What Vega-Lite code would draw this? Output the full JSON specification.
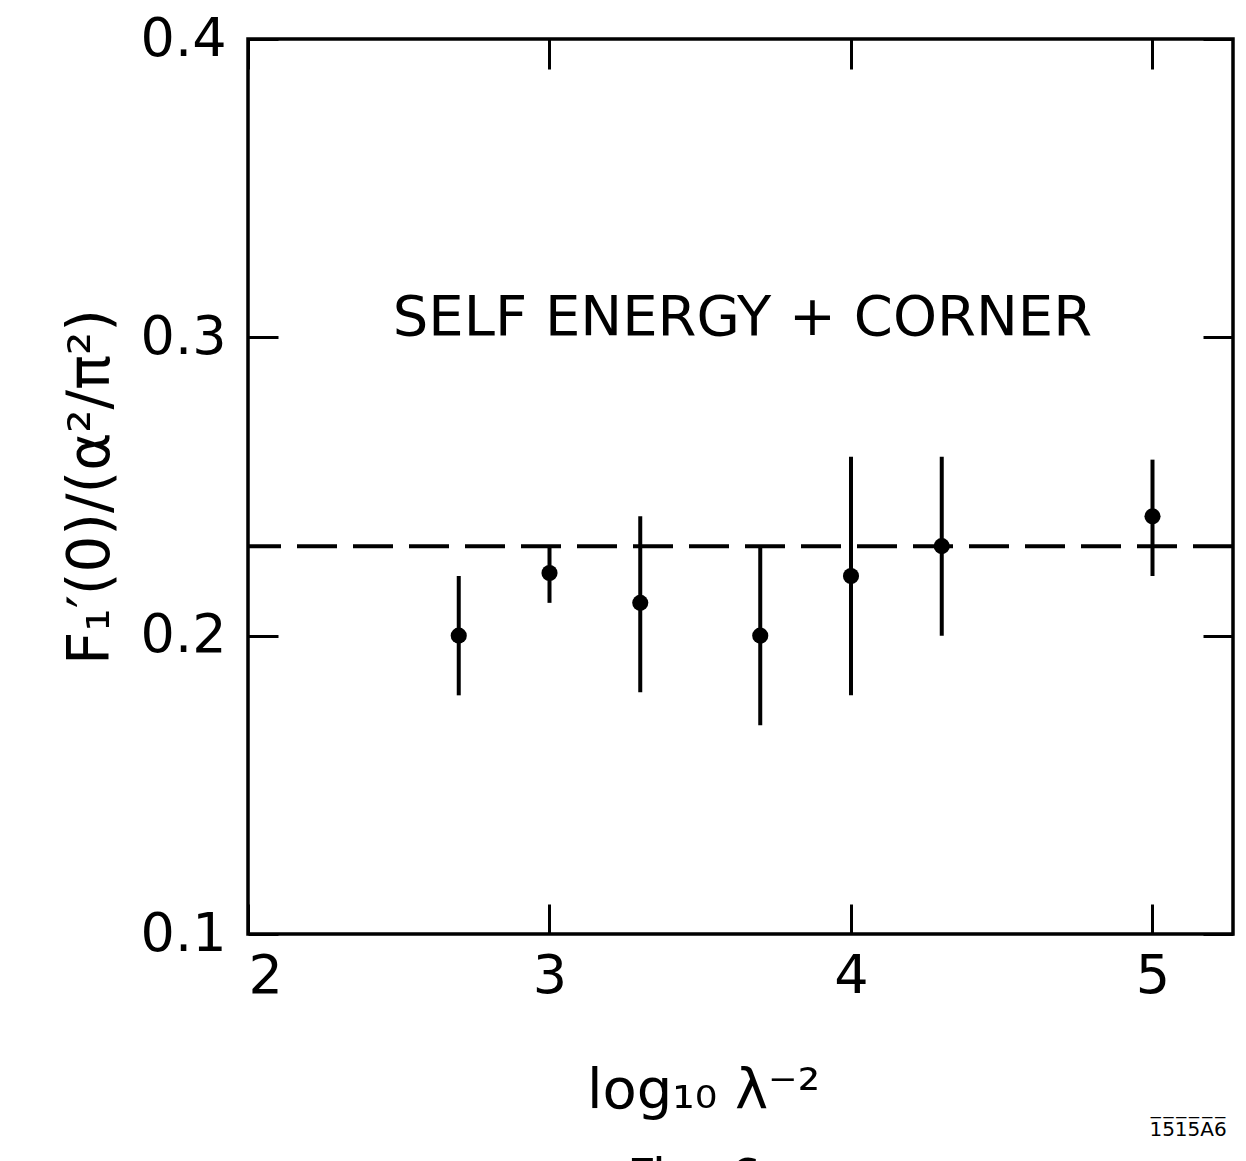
{
  "$schema": "https://vega.github.io/schema/vega-lite/v6.json",
  "width": 985,
  "height": 895,
  "autosize": "none",
  "padding": {"left": 248, "top": 39, "right": 13, "bottom": 227},
  "background": "white",
  "config": {
    "view": {"stroke": "black", "strokeWidth": 3.5},
    "font": "DejaVu Sans",
    "axis": {
      "grid": false,
      "domain": false,
      "tickColor": "black",
      "tickWidth": 3,
      "tickSize": -30,
      "labelColor": "black",
      "labelFont": "DejaVu Sans",
      "labelFontSize": 54,
      "titleColor": "black",
      "titleFont": "DejaVu Sans",
      "titleFontWeight": "normal"
    }
  },
  "datasets": {
    "pts": [
      {"x": 2.699, "v": 0.200, "lo": 0.180, "hi": 0.220},
      {"x": 3.0, "v": 0.221, "lo": 0.211, "hi": 0.230},
      {"x": 3.301, "v": 0.211, "lo": 0.181, "hi": 0.240},
      {"x": 3.699, "v": 0.200, "lo": 0.170, "hi": 0.230},
      {"x": 4.0, "v": 0.220, "lo": 0.180, "hi": 0.260},
      {"x": 4.301, "v": 0.230, "lo": 0.200, "hi": 0.260},
      {"x": 5.0, "v": 0.240, "lo": 0.220, "hi": 0.259}
    ],
    "fit": [{"fit": 0.23}]
  },
  "layer": [
    {
      "data": {"name": "pts"},
      "mark": {"type": "rule", "color": "black", "strokeWidth": 4},
      "encoding": {
        "x": {"field": "x", "type": "quantitative", "scale": {"domain": [2, 5.267]},
              "axis": {"orient": "top", "labels": false, "title": null, "values": [2, 3, 4, 5]}},
        "y": {"field": "lo", "type": "quantitative", "scale": {"domain": [0.1, 0.4]},
              "axis": {"orient": "right", "labels": false, "title": null, "values": [0.1, 0.2, 0.3, 0.4]}},
        "y2": {"field": "hi"}
      }
    },
    {
      "data": {"name": "pts"},
      "mark": {"type": "point", "filled": true, "shape": "circle", "color": "black", "size": 260, "opacity": 1},
      "encoding": {
        "x": {"field": "x", "type": "quantitative", "scale": {"domain": [2, 5.267]},
              "axis": {"orient": "bottom", "values": [2, 3, 4, 5], "format": "d", "labelPadding": 45,
                       "title": "log₁₀ λ⁻²", "titleFontSize": 56, "titlePadding": 60, "titleX": 455}},
        "y": {"field": "v", "type": "quantitative", "scale": {"domain": [0.1, 0.4]},
              "axis": {"orient": "left", "values": [0.1, 0.2, 0.3, 0.4], "format": ".1f", "labelPadding": 52,
                       "title": "F₁′(0)/(α²/π²)", "titleFontSize": 58, "titlePadding": 20}}
      }
    },
    {
      "data": {"name": "fit"},
      "mark": {"type": "rule", "color": "black", "strokeWidth": 4, "strokeDash": [40, 16]},
      "encoding": {
        "y": {"field": "fit", "type": "quantitative", "scale": {"domain": [0.1, 0.4]}, "axis": null}
      }
    },
    {
      "data": {"values": [{}]},
      "mark": {"type": "text", "text": "SELF  ENERGY + CORNER", "fontSize": 56, "align": "center", "baseline": "middle", "color": "black"},
      "encoding": {
        "x": {"datum": 3.64, "type": "quantitative", "scale": {"domain": [2, 5.267]}, "axis": null},
        "y": {"datum": 0.3065, "type": "quantitative", "scale": {"domain": [0.1, 0.4]}, "axis": null}
      }
    },
    {
      "data": {"values": [{}]},
      "mark": {"type": "text", "text": "1̅5̅1̅5̅A̅6̅", "fontSize": 20, "align": "center", "baseline": "middle", "color": "black"},
      "encoding": {
        "x": {"datum": 5.118, "type": "quantitative", "scale": {"domain": [2, 5.267]}, "axis": null},
        "y": {"datum": 0.0343, "type": "quantitative", "scale": {"domain": [0.1, 0.4]}, "axis": null}
      }
    },
    {
      "data": {"values": [{}]},
      "mark": {"type": "text", "text": "Fig. 6", "fontSize": 50, "align": "left", "baseline": "top", "color": "black"},
      "encoding": {
        "x": {"datum": 3.257, "type": "quantitative", "scale": {"domain": [2, 5.267]}, "axis": null},
        "y": {"datum": 0.0262, "type": "quantitative", "scale": {"domain": [0.1, 0.4]}, "axis": null}
      }
    }
  ],
  "resolve": {"axis": {"x": "independent", "y": "independent"}}
}
